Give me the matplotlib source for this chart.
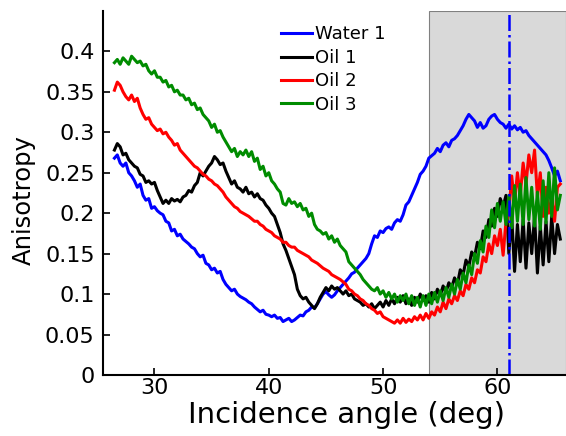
import numpy as np
import matplotlib
matplotlib.use("Agg")
import matplotlib.pyplot as plt

plt.rcParams['font.family'] = ['DejaVu Sans']

# incidence angle samples (deg), 0.25 deg apart
angle = np.arange(26.5, 65.51, 0.25)

water1 = [
    0.268, 0.272, 0.262, 0.258, 0.262, 0.250, 0.246, 0.240,
    0.232, 0.236, 0.222, 0.216, 0.218, 0.206, 0.208, 0.203,
    0.200, 0.198, 0.190, 0.188, 0.178, 0.180, 0.172, 0.174,
    0.168, 0.165, 0.162, 0.158, 0.156, 0.150, 0.146, 0.148,
    0.138, 0.136, 0.130, 0.132, 0.126, 0.128, 0.118, 0.112,
    0.108, 0.104, 0.106, 0.100, 0.097, 0.095, 0.093, 0.090,
    0.088, 0.084, 0.081, 0.078, 0.080, 0.075, 0.074, 0.072,
    0.074, 0.070, 0.071, 0.066, 0.068, 0.070, 0.066, 0.068,
    0.071, 0.074, 0.073, 0.078, 0.080, 0.084, 0.083, 0.088,
    0.094, 0.100, 0.103, 0.099, 0.096, 0.099, 0.104, 0.108,
    0.112, 0.116, 0.120, 0.125, 0.127, 0.132, 0.136, 0.140,
    0.144, 0.150, 0.162, 0.172, 0.170, 0.178, 0.176, 0.181,
    0.183, 0.180, 0.188, 0.192, 0.190, 0.198, 0.210, 0.214,
    0.222, 0.230, 0.238, 0.248, 0.252, 0.258, 0.268, 0.271,
    0.274, 0.280, 0.276, 0.284, 0.287, 0.282, 0.290, 0.292,
    0.296, 0.302, 0.308, 0.316, 0.322, 0.318, 0.314, 0.306,
    0.312, 0.305, 0.308, 0.316, 0.320, 0.322, 0.316, 0.312,
    0.310, 0.305, 0.310, 0.304, 0.308, 0.303, 0.306, 0.300,
    0.302, 0.296, 0.292, 0.288, 0.284, 0.280, 0.276, 0.272,
    0.265, 0.256, 0.246, 0.252, 0.240,
]

oil1 = [
    0.278, 0.286, 0.282, 0.272, 0.274, 0.266, 0.262, 0.258,
    0.256, 0.248, 0.246, 0.238, 0.240, 0.236, 0.238, 0.228,
    0.220, 0.212, 0.216, 0.212, 0.218, 0.215, 0.217, 0.214,
    0.220, 0.222, 0.228, 0.226, 0.234, 0.238, 0.250, 0.246,
    0.252, 0.258, 0.262, 0.270, 0.266, 0.260, 0.262, 0.252,
    0.244, 0.236, 0.240, 0.232, 0.230, 0.226, 0.232, 0.224,
    0.226, 0.220, 0.224, 0.218, 0.216, 0.210, 0.206, 0.200,
    0.196, 0.186, 0.176, 0.162, 0.154, 0.144, 0.134, 0.124,
    0.106, 0.098, 0.094, 0.096, 0.090, 0.086, 0.082, 0.088,
    0.096, 0.102, 0.108, 0.104, 0.110, 0.106, 0.108, 0.104,
    0.100, 0.104, 0.098, 0.100, 0.094, 0.092, 0.090, 0.086,
    0.088, 0.084, 0.088, 0.082, 0.086, 0.090, 0.084, 0.092,
    0.086, 0.094, 0.088, 0.096, 0.090, 0.098, 0.088, 0.094,
    0.086, 0.096, 0.090, 0.100, 0.092, 0.098, 0.090, 0.102,
    0.094, 0.106, 0.098, 0.110, 0.102, 0.114, 0.108, 0.120,
    0.112, 0.130, 0.124, 0.142, 0.134, 0.152, 0.146, 0.164,
    0.156, 0.178, 0.170, 0.192, 0.184, 0.206, 0.196, 0.218,
    0.208, 0.222, 0.150, 0.196, 0.128, 0.186, 0.140, 0.192,
    0.132, 0.188, 0.150, 0.196, 0.126, 0.184, 0.136, 0.190,
    0.140, 0.196, 0.150, 0.186, 0.168,
]

oil2 = [
    0.352, 0.362, 0.358, 0.350, 0.344, 0.340, 0.346, 0.338,
    0.342, 0.330, 0.322, 0.316, 0.318, 0.310, 0.306, 0.302,
    0.304, 0.298, 0.300, 0.294, 0.290, 0.284, 0.286, 0.278,
    0.274, 0.270, 0.266, 0.262, 0.258, 0.256, 0.252, 0.248,
    0.246, 0.242, 0.240, 0.236, 0.234, 0.230, 0.226, 0.220,
    0.216, 0.212, 0.208, 0.206, 0.202, 0.200, 0.198, 0.196,
    0.193, 0.190, 0.190, 0.186, 0.184, 0.180, 0.178, 0.176,
    0.172, 0.170, 0.168, 0.164, 0.164, 0.160, 0.158, 0.158,
    0.154, 0.152, 0.150, 0.148, 0.146, 0.142, 0.140, 0.138,
    0.135, 0.132, 0.130, 0.128, 0.124, 0.122, 0.120, 0.118,
    0.115, 0.112, 0.106, 0.104, 0.100, 0.098, 0.094, 0.092,
    0.088, 0.086, 0.082, 0.080, 0.076, 0.078, 0.072, 0.070,
    0.068, 0.066, 0.064, 0.068, 0.064, 0.070, 0.065, 0.069,
    0.066, 0.072, 0.068, 0.074, 0.068, 0.076, 0.070, 0.078,
    0.074, 0.084, 0.078, 0.090, 0.082, 0.094, 0.088, 0.098,
    0.092, 0.104, 0.098, 0.112, 0.106, 0.120, 0.114, 0.130,
    0.126, 0.146, 0.140, 0.162, 0.150, 0.172, 0.160, 0.180,
    0.148, 0.190, 0.200, 0.246, 0.212, 0.250, 0.222, 0.262,
    0.236, 0.272, 0.250, 0.278, 0.220, 0.250, 0.196, 0.232,
    0.200, 0.218, 0.190, 0.232, 0.236,
]

oil3 = [
    0.386, 0.390, 0.384, 0.392, 0.388, 0.384, 0.394, 0.390,
    0.386, 0.388, 0.382, 0.384, 0.376, 0.372, 0.376, 0.368,
    0.368, 0.362, 0.364, 0.356, 0.358, 0.350, 0.352, 0.346,
    0.346, 0.340, 0.342, 0.334, 0.336, 0.328, 0.330, 0.322,
    0.318, 0.314, 0.306, 0.310, 0.300, 0.302, 0.294, 0.288,
    0.282, 0.276, 0.280, 0.270, 0.276, 0.272, 0.278, 0.270,
    0.276, 0.264, 0.268, 0.254, 0.258, 0.246, 0.250, 0.240,
    0.236, 0.230, 0.226, 0.212, 0.210, 0.218, 0.212, 0.214,
    0.208, 0.212, 0.204, 0.206, 0.196, 0.200, 0.186, 0.180,
    0.178, 0.174, 0.176, 0.168, 0.172, 0.164, 0.168, 0.160,
    0.156, 0.152, 0.140, 0.136, 0.132, 0.128, 0.124, 0.118,
    0.114, 0.110, 0.106, 0.104, 0.108, 0.100, 0.104, 0.096,
    0.102, 0.094, 0.100, 0.090, 0.098, 0.092, 0.100, 0.088,
    0.098, 0.086, 0.096, 0.084, 0.098, 0.086, 0.100, 0.088,
    0.102, 0.090, 0.104, 0.092, 0.108, 0.096, 0.112, 0.100,
    0.118, 0.106, 0.126, 0.114, 0.136, 0.124, 0.150, 0.138,
    0.166, 0.152, 0.184, 0.170, 0.204, 0.182, 0.212, 0.190,
    0.214, 0.186, 0.222, 0.182, 0.234, 0.190, 0.236, 0.186,
    0.244, 0.192, 0.232, 0.184, 0.226, 0.180, 0.240, 0.188,
    0.250, 0.196, 0.256, 0.204, 0.222,
]

labels = ['Water 1', 'Oil 1', 'Oil 2', 'Oil 3']
colors = ['#0000ff', 'black', '#ff0000', '#008c00']
shade_start = 54
marker_angle = 61

fig = plt.figure(figsize=(5.66, 4.36), dpi=100)
ax = fig.add_axes([0.182, 0.14, 0.818, 0.835])

# shaded region beyond the critical angle
ax.axvspan(shade_start, 66, facecolor='#d9d9d9', edgecolor='#808080', linewidth=0.8, zorder=0)

for y, lab, c in zip([water1, oil1, oil2, oil3], labels, colors):
    ax.plot(angle, y, color=c, linewidth=2.2, label=lab)

ax.axvline(marker_angle, color='#0000ff', linestyle='-.', linewidth=1.8)

ax.set_xlim(25.5, 66)
ax.set_ylim(0, 0.45)
ax.set_xticks([30, 40, 50, 60])
ax.set_yticks([0, 0.05, 0.1, 0.15, 0.2, 0.25, 0.3, 0.35, 0.4])
ax.set_yticklabels(['0', '0.05', '0.1', '0.15', '0.2', '0.25', '0.3', '0.35', '0.4'])
ax.tick_params(direction='in', length=5, width=1.2, labelsize=16, pad=6)
ax.tick_params(axis='x', pad=2)

ax.spines['top'].set_visible(False)
ax.spines['right'].set_visible(False)
ax.spines['left'].set_linewidth(1.5)
ax.spines['bottom'].set_linewidth(1.5)

ax.set_xlabel('Incidence angle (deg)', fontsize=21)
ax.set_ylabel('Anisotropy', fontsize=17.5)
ax.xaxis.set_label_coords(0.525, -0.072)
ax.yaxis.set_label_coords(-0.145, 0.48)

ax.legend(loc='upper left', bbox_to_anchor=(0.385, 0.96), frameon=False,
          fontsize=13, handlelength=1.7, handletextpad=0.15,
          labelspacing=0.3, borderaxespad=0, borderpad=0)

fig.savefig('out.png', dpi=100)
